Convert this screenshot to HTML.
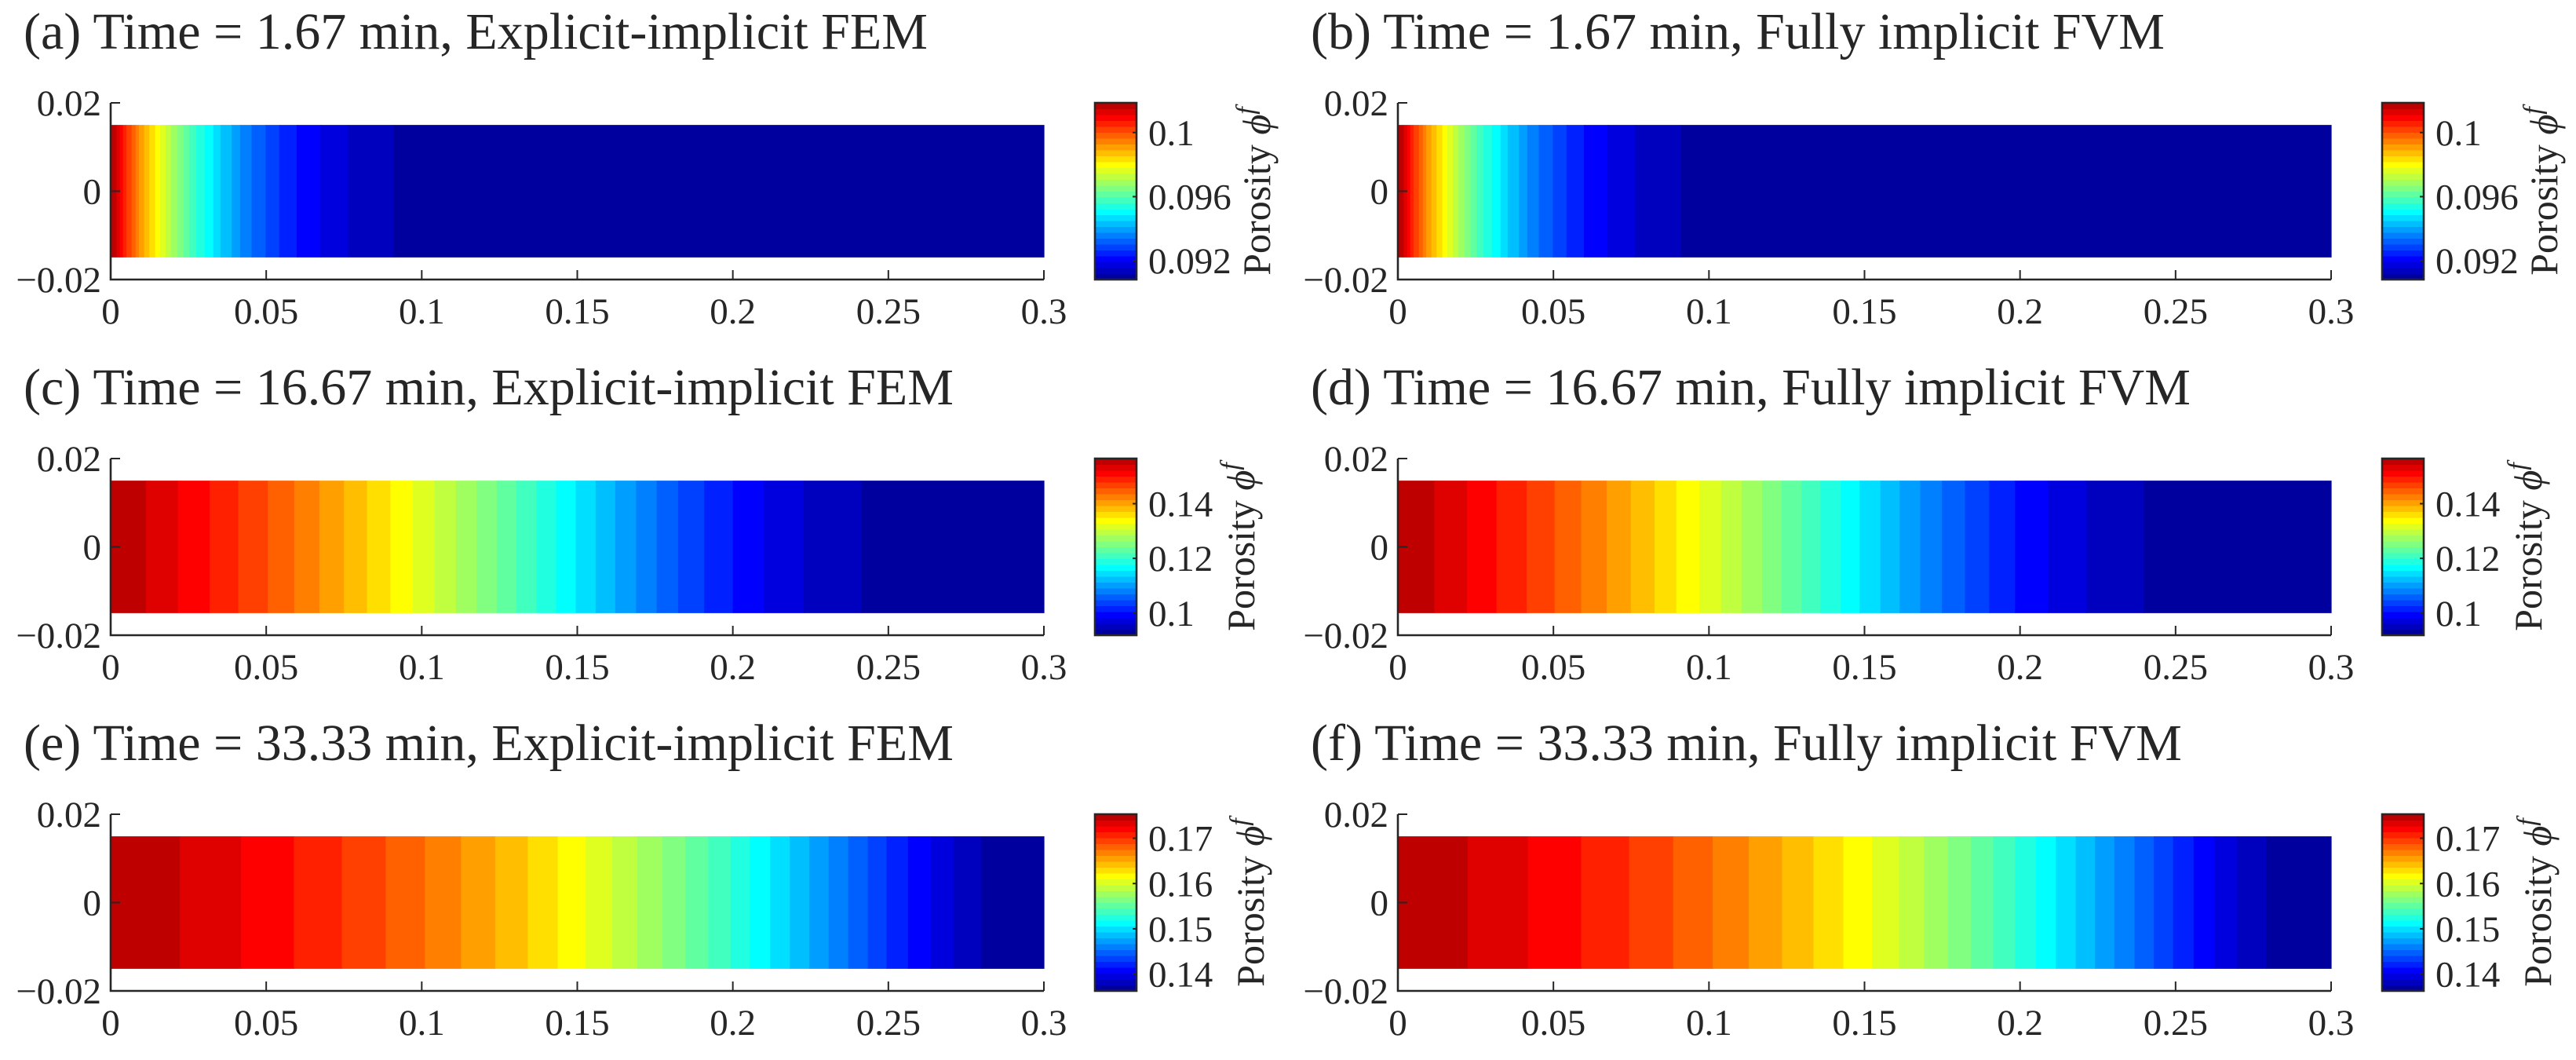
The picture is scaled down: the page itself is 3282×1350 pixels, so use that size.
<!DOCTYPE html>
<html><head><meta charset="utf-8"><style>
html,body{margin:0;padding:0;background:#fff;}
svg{display:block;}
text{font-family:"Liberation Serif","DejaVu Serif",serif;fill:#262626;}
</style></head><body>
<svg id="fig" width="3282" height="1350" viewBox="0 0 3282 1350" xmlns="http://www.w3.org/2000/svg"></svg>
<script>
// ---- data ----
const titles = [
 "(a) Time = 1.67 min, Explicit-implicit FEM", "(b) Time = 1.67 min, Fully implicit FVM",
 "(c) Time = 16.67 min, Explicit-implicit FEM", "(d) Time = 16.67 min, Fully implicit FVM",
 "(e) Time = 33.33 min, Explicit-implicit FEM", "(f) Time = 33.33 min, Fully implicit FVM"];
const xTicks = [0, 0.05, 0.1, 0.15, 0.2, 0.25, 0.3];
const xTickLabels = ["0","0.05","0.1","0.15","0.2","0.25","0.3"];
const yTicks = [0.02, 0, -0.02];
const yTickLabels = ["0.02","0","\u22120.02"];
// band edges (x in m) where the contour level drops by one, from left to right
const edgesA = [0.00185,0.00294,0.00395,0.00505,0.00673,0.0080,0.00908,0.01076,0.01245,0.0143,0.0159,0.01766,0.0194,0.0214,0.0234,0.0254,0.0275,0.0302,0.0330,0.0353,0.0389,0.0416,0.0453,0.0498,0.0542,0.0598,0.0674,0.0763,0.0910];
const edgesB = [0.00185,0.00294,0.00395,0.00505,0.00673,0.0080,0.00908,0.01076,0.01245,0.0143,0.0159,0.01766,0.0194,0.0214,0.0234,0.0254,0.0275,0.0302,0.0330,0.0353,0.0389,0.0416,0.0453,0.0498,0.0542,0.0598,0.0674,0.0763,0.0910];
const edgesC = [0.0113,0.0216,0.0318,0.0410,0.0505,0.0590,0.0671,0.0750,0.0824,0.0899,0.0971,0.1041,0.1110,0.1176,0.1241,0.1304,0.1369,0.1432,0.1495,0.1559,0.1622,0.1689,0.1755,0.1824,0.1908,0.2000,0.2099,0.2228,0.2414];
const edgesD = [0.01167,0.02218,0.0317,0.0414,0.0504,0.0589,0.0671,0.0749,0.0825,0.0895,0.0969,0.1039,0.1105,0.1171,0.1233,0.1298,0.1358,0.1424,0.1484,0.1551,0.1613,0.1679,0.1749,0.1823,0.1901,0.1984,0.2089,0.2214,0.2397];
const edgesE = [0.0222,0.0419,0.0589,0.0743,0.0884,0.1010,0.1126,0.1236,0.1341,0.1437,0.1527,0.1612,0.1693,0.1773,0.1847,0.1921,0.1993,0.2055,0.2120,0.2183,0.2246,0.2308,0.2371,0.2434,0.2494,0.2563,0.2637,0.2709,0.2799];
const edgesF = [0.0224,0.0418,0.0589,0.0743,0.0885,0.1012,0.1128,0.1235,0.1336,0.1432,0.1525,0.1611,0.1691,0.1768,0.1842,0.1914,0.1984,0.2051,0.2115,0.2179,0.2241,0.2303,0.2368,0.2430,0.2492,0.2558,0.2626,0.2698,0.2792];
// colorbar ranges and ticks per row
const cbarMin = [0.09083, 0.0919, 0.1363];
const cbarMax = [0.10185, 0.1565, 0.1753];
const cbarTicks1 = [0.092, 0.096, 0.1];
const cbarTicks2 = [0.1, 0.12, 0.14];
const cbarTicks3 = [0.14, 0.15, 0.16, 0.17];
const cbarLabels1 = ["0.092","0.096","0.1"];
const cbarLabels2 = ["0.1","0.12","0.14"];
const cbarLabels3 = ["0.14","0.15","0.16","0.17"];

// ---- rendering ----
const NS = "http://www.w3.org/2000/svg";
const svg = document.getElementById("fig");
const NLEV = 30;
function jet(k){ const t=k/32; const c=v=>Math.round(255*Math.max(0,Math.min(1,v)));
  return `rgb(${c(1.5-Math.abs(4*t-3))},${c(1.5-Math.abs(4*t-2))},${c(1.5-Math.abs(4*t-1))})`; }
function el(tag, attrs, parent){ const e=document.createElementNS(NS,tag); for(const k in attrs) e.setAttribute(k,attrs[k]); (parent||svg).appendChild(e); return e; }
const AX_L=141, AX_W=1189, AX_T=131, AX_H=225, COLX=1640, ROWY=453;
const edgesAll=[edgesA,edgesB,edgesC,edgesD,edgesE,edgesF];
const cbTicks=[cbarTicks1,cbarTicks2,cbarTicks3], cbLabels=[cbarLabels1,cbarLabels2,cbarLabels3];
const labelX=[1604,1584,1596];
const ink="#262626";

for(let p=0;p<6;p++){
  const col=p%2, row=Math.floor(p/2);
  const ox=col*COLX, oy=row*ROWY;
  const g=el("g",{});
  
  
  const xs=v=>ox+AX_L+v/0.3*AX_W;
  const ys=v=>oy+AX_T+(0.02-v)/0.04*AX_H;
  const t=el("text",{x:ox+30,y:oy+62,"font-size":66},g); t.textContent=titles[p];
  
  
  // bands
  const edges=edgesAll[p];
  const bounds=[0].concat(edges,[0.3]);
  for(let i=0;i<bounds.length-1;i++){
    const r=el("rect",{x:xs(bounds[i]),y:ys(0.015),width:xs(bounds[i+1])-xs(bounds[i])+0.6,height:ys(-0.015)-ys(0.015),fill:jet(NLEV-i)},g);
    
    
  }
  // axes
  const ax=el("path",{d:`M${xs(0)},${ys(0.02)} V${ys(-0.02)} H${xs(0.3)}`,stroke:ink,"stroke-width":2.6,fill:"none"},g);
  
  
  xTicks.forEach((v,i)=>{
    el("line",{x1:xs(v),x2:xs(v),y1:ys(-0.02),y2:ys(-0.02)-12,stroke:ink,"stroke-width":2},g);
    const tx=el("text",{x:xs(v),y:oy+412,"font-size":47,"text-anchor":"middle"},g); tx.textContent=xTickLabels[i];
    
    
  });
  yTicks.forEach((v,i)=>{
    el("line",{x1:xs(0),x2:xs(0)+12,y1:ys(v),y2:ys(v),stroke:ink,"stroke-width":2},g);
    const ty=el("text",{x:xs(0)-12,y:ys(v)+16,"font-size":47,"text-anchor":"end"},g); ty.textContent=yTickLabels[i];
    
    
  });
  // colorbar
  const cx=ox+1395, cw=53, ct=oy+AX_T, ch=AX_H;
  const cmin=cbarMin[row], cmax=cbarMax[row];
  const cg=el("g",{},g);
  
  
  for(let k=1;k<=NLEV;k++){
    el("rect",{x:cx,y:ct+ch-k*ch/NLEV,width:cw,height:ch/NLEV+0.5,fill:jet(k)},cg);
  }
  el("rect",{x:cx,y:ct,width:cw,height:ch,fill:"none",stroke:ink,"stroke-width":2.6},cg);
  const cy=v=>ct+ch-(v-cmin)/(cmax-cmin)*ch;
  cbTicks[row].forEach((v,i)=>{
    el("line",{x1:cx+cw,x2:cx+cw-5,y1:cy(v),y2:cy(v),stroke:ink,"stroke-width":2},cg);
    const tl=el("text",{x:ox+1463,y:cy(v)+16,"font-size":47},cg); tl.textContent=cbLabels[row][i];
    
    
  });
  const lx=ox+labelX[row], ly=oy+AX_T+AX_H/2;
  const lab=el("text",{x:0,y:0,"font-size":50,"text-anchor":"middle",transform:`translate(${lx+14},${ly}) rotate(-90)`},g);
  
  
  const s1=el("tspan",{},lab); s1.textContent="Porosity ";
  const s2=el("tspan",{"font-style":"italic"},lab); s2.textContent="\u03D5";
  const s3=el("tspan",{"font-style":"italic","font-size":34,dy:-20},lab); s3.textContent="f";
}
</script>
</body></html>
